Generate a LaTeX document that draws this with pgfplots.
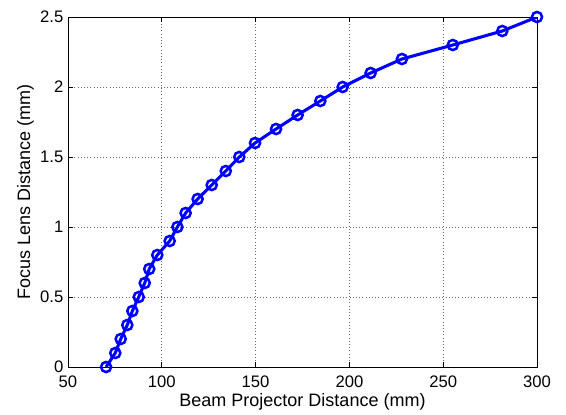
\documentclass[border=0pt]{standalone}
\usepackage{fontspec}
\setmainfont{Liberation Sans}
\usepackage{pgfplots}
\pgfplotsset{compat=1.18}
\begin{document}
\begin{tikzpicture}
\begin{axis}[
  name=ax,
  scale only axis,
  width=351.75pt, height=262.5pt,
  xmin=50, xmax=300, ymin=0, ymax=2.5,
  xtick={50,100,150,200,250,300},
  ytick={0,0.5,1,1.5,2,2.5},
  tick align=inside,
  major tick length=3.75pt,
  tick style={black, line width=0.5pt},
  axis line style={black, line width=0.5pt},
  grid=major,
  grid style={dotted, black!60, line width=0.6pt},
  /pgf/number format/assume math mode=true,
  ticklabel style={font=\fontsize{12.5}{14}\selectfont},
  label style={font=\fontsize{13.5}{16}\selectfont},
  xlabel={Beam Projector Distance (mm)},
  ylabel={Focus Lens Distance (mm)},
  xlabel style={at={(axis description cs:0.5,0)}, anchor=north, yshift=-16pt},
  ylabel style={at={(axis description cs:0,0.5)}, anchor=south, yshift=22pt},
  xticklabel style={yshift=-3pt},
]
\addplot[blue, line width=2.3pt, mark=o, mark size=3.8pt, mark options={line width=1.9pt}] coordinates {
(70.3,0.0) (75.2,0.1) (78.1,0.2) (81.6,0.3) (84.3,0.4) (87.7,0.5)
(90.9,0.6) (93.3,0.7) (97.6,0.8) (104.2,0.9) (108.3,1.0) (112.7,1.1)
(119.1,1.2) (126.6,1.3) (134.1,1.4) (141.3,1.5) (149.7,1.6) (160.9,1.7)
(172.4,1.8) (184.5,1.9) (196.4,2.0) (211.3,2.1) (228.0,2.2) (255.1,2.3)
(281.5,2.4) (300,2.5)
};
\end{axis}
\path ([xshift=-51pt, yshift=-35.25pt]ax.south west) rectangle ([xshift=21.75pt, yshift=12.75pt]ax.north east);
\end{tikzpicture}
\end{document}
